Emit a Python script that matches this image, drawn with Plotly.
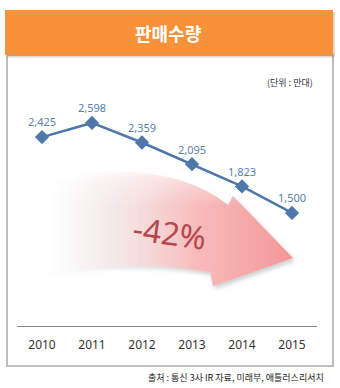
import base64
import plotly.graph_objects as go

years = ["2010", "2011", "2012", "2013", "2014", "2015"]
sales = [2425, 2598, 2359, 2095, 1823, 1500]
labels = ["2,425", "2,598", "2,359", "2,095", "1,823", "1,500"]

W, H = 340, 388
ML, MR, MT, MB = 17, 23, 70, 62
PW, PH = W - ML - MR, H - MT - MB

def px(x):
    return (x - ML) / PW

def py(y):
    return (H - MB - y) / PH

arrow_svg = f'''<svg xmlns="http://www.w3.org/2000/svg" width="{W}" height="{H}" viewBox="0 0 {W} {H}">
<defs>
<linearGradient id="g" x1="45" y1="0" x2="295" y2="0" gradientUnits="userSpaceOnUse">
<stop offset="0" stop-color="#ffffff" stop-opacity="0"/>
<stop offset="0.3" stop-color="#fde3e3" stop-opacity="0.55"/>
<stop offset="0.6" stop-color="#f8bcbc" stop-opacity="1"/>
<stop offset="1" stop-color="#f39696" stop-opacity="1"/>
</linearGradient>
<linearGradient id="v" x1="0" y1="165" x2="0" y2="285" gradientUnits="userSpaceOnUse">
<stop offset="0" stop-color="#ffffff" stop-opacity="0.6"/>
<stop offset="0.35" stop-color="#ffffff" stop-opacity="0"/>
</linearGradient>
<filter id="s" x="-10%" y="-10%" width="130%" height="140%">
<feDropShadow dx="2" dy="3" stdDeviation="2" flood-color="#888" flood-opacity="0.4"/>
</filter>
</defs>
<path d="M 45,180 Q 165,156 228,205 L 233,196 L 293,258 L 213,286 L 210,272 Q 140,259 45,272 Z" fill="url(#g)" filter="url(#s)"/>
<path d="M 45,180 Q 165,156 228,205 L 233,196 L 293,258 L 213,286 L 210,272 Q 140,259 45,272 Z" fill="url(#v)"/>
</svg>'''
arrow_uri = "data:image/svg+xml;base64," + base64.b64encode(arrow_svg.encode()).decode()

fig = go.Figure()
fig.add_trace(go.Scatter(
    x=years, y=sales, mode="lines+markers+text",
    text=labels, textposition="top center",
    textfont=dict(size=11, color="#5a7fae", family="Noto Sans"),
    line=dict(color="#4f77aa", width=2.5),
    marker=dict(symbol="diamond", size=11, color="#4f77aa"),
    cliponaxis=False, hoverinfo="skip",
))

def ann(text, x, y, size, color, family="Noto Sans CJK KR", xanchor="center", angle=0):
    return dict(text=text, xref="paper", yref="paper", x=px(x), y=py(y),
                xanchor=xanchor, yanchor="middle", showarrow=False, textangle=angle,
                font=dict(size=size, color=color, family=family))

fig.update_layout(
    width=W, height=H,
    margin=dict(l=ML, r=MR, t=MT, b=MB),
    paper_bgcolor="white", plot_bgcolor="rgba(0,0,0,0)",
    showlegend=False,
    font=dict(family="Noto Sans CJK KR, Noto Sans", color="#333"),
    xaxis=dict(type="category", range=[-0.5, 5.5], showgrid=False, zeroline=False,
               showline=True, linecolor="#888", linewidth=1,
               ticks="outside", ticklen=8, tickcolor="rgba(0,0,0,0)",
               tickfont=dict(size=12, color="#333", family="Noto Sans")),
    yaxis=dict(range=[120, 3244], visible=False),
    images=[dict(source=arrow_uri, xref="paper", yref="paper",
                 x=px(0), y=py(0), sizex=W / PW, sizey=H / PH,
                 xanchor="left", yanchor="top", sizing="stretch", layer="below")],
    shapes=[
        dict(type="rect", xref="paper", yref="paper",
             x0=px(7), x1=px(333), y0=py(366), y1=py(55),
             line=dict(color="#bdbdbd", width=2), fillcolor="rgba(0,0,0,0)", layer="below"),
        dict(type="rect", xref="paper", yref="paper",
             x0=px(7), x1=px(335), y0=py(57.5), y1=py(12),
             line=dict(width=0), fillcolor="rgba(150,90,40,0.25)", layer="below"),
        dict(type="rect", xref="paper", yref="paper",
             x0=px(5), x1=px(333), y0=py(55), y1=py(10),
             line=dict(width=0), fillcolor="#f7923a", layer="below"),
    ],
    annotations=[
        ann("<b>판매수량</b>", 168, 33, 18, "white"),
        ann("(단위 : 만대)", 290, 82, 9, "#333"),
        ann("-42%", 170, 232, 32, "#b5474f", family="Noto Sans", angle=8),
        ann("출처 : 통신 3사 IR 자료, 미래부, 애틀러스리서치", 326, 377, 9, "#222", xanchor="right"),
    ],
)

fig.write_html("out.html")
